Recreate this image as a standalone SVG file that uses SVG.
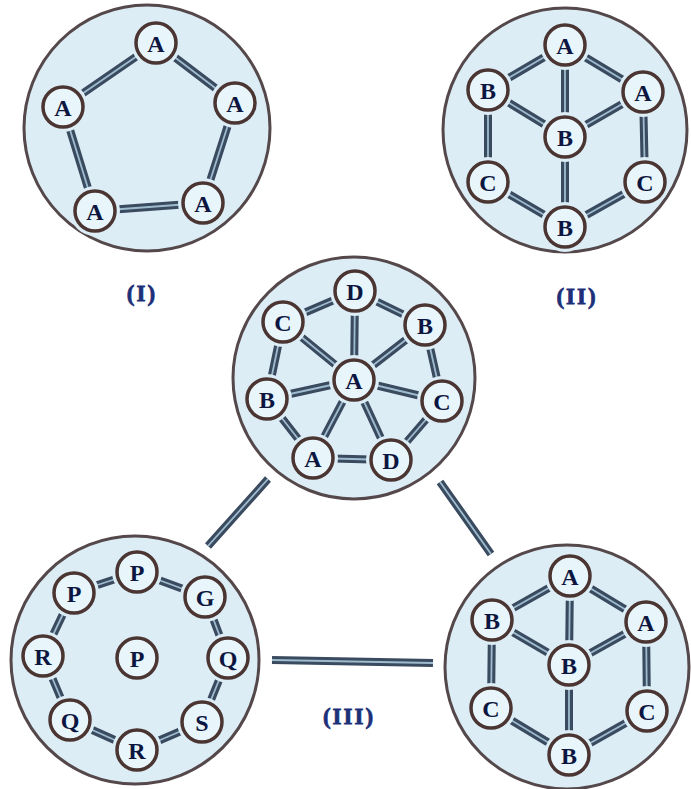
<svg xmlns="http://www.w3.org/2000/svg" width="691" height="789" viewBox="0 0 691 789">
<style>
.big{fill:#dcedf6;stroke:#54484a;stroke-width:3}
.halo{fill:#dcedf6}
.node{fill:#e8f5fb;stroke:#4a3532;stroke-width:3.5}
.lbl{font-family:"Liberation Serif","Times New Roman",serif;font-weight:bold;font-size:24px;fill:#0c1640;text-anchor:middle;dominant-baseline:central}
.ttl{font-family:"Liberation Serif","Times New Roman",serif;font-weight:bold;font-size:23px;fill:#1c2f78;stroke:#1c2f78;stroke-width:0.8;text-anchor:middle;letter-spacing:2px}
.e1{stroke:#3a4b60;stroke-width:8;fill:none}
.e2{stroke:#9fbccf;stroke-width:1.8;fill:none}
</style>
<rect width="691" height="789" fill="#ffffff"/>

<!-- background circles -->
<g id="circle-I"><circle class="big" cx="147" cy="128" r="123"/></g>
<g id="circle-II"><circle class="big" cx="565" cy="130" r="122"/></g>
<g id="circle-III-top"><circle class="big" cx="354" cy="378" r="121"/></g>
<g id="circle-III-left"><circle class="big" cx="135" cy="660" r="124"/></g>
<g id="circle-III-right"><circle class="big" cx="567" cy="667" r="122"/></g>

<!-- connectors -->
<g id="connectors">
  <g class="outer">
    <path class="e1" d="M156,43L63,107M156,43L235,103M63,107L95,211M95,211L203,203M235,103L203,203"/>
    <path class="e1" d="M565,45L488,90M565,45L643,92M565,45L565,137M488,90L565,137M643,92L565,137M488,90L488,182M643,92L645,182M488,182L565,227M645,182L565,227M565,137L565,227"/>
    <path class="e1" d="M355,291L425,325M355,291L283,322M283,322L267,399M267,399L313,458M313,458L391,460M391,460L442,401M442,401L425,325M354,380L355,291M354,380L425,325M354,380L283,322M354,380L267,399M354,380L442,401M354,380L313,458M354,380L391,460"/>
    <path class="e1" d="M137,572L73,593M137,572L205,597M205,597L228,658M228,658L202,722M202,722L137,750M137,750L70,720M70,720L43,656M43,656L73,593"/>
    <path class="e1" d="M570,576L492,620M570,576L646,622M570,576L569,665M492,620L569,665M646,622L569,665M492,620L491,708M646,622L647,711M491,708L569,755M647,711L569,755M569,665L569,755"/>
    <path class="e1" d="M268,479L208,546M440,482L491,554M272,660L433,663"/>
  </g>
  <g class="inner">
    <path class="e2" d="M156,43L63,107M156,43L235,103M63,107L95,211M95,211L203,203M235,103L203,203"/>
    <path class="e2" d="M565,45L488,90M565,45L643,92M565,45L565,137M488,90L565,137M643,92L565,137M488,90L488,182M643,92L645,182M488,182L565,227M645,182L565,227M565,137L565,227"/>
    <path class="e2" d="M355,291L425,325M355,291L283,322M283,322L267,399M267,399L313,458M313,458L391,460M391,460L442,401M442,401L425,325M354,380L355,291M354,380L425,325M354,380L283,322M354,380L267,399M354,380L442,401M354,380L313,458M354,380L391,460"/>
    <path class="e2" d="M137,572L73,593M137,572L205,597M205,597L228,658M228,658L202,722M202,722L137,750M137,750L70,720M70,720L43,656M43,656L73,593"/>
    <path class="e2" d="M570,576L492,620M570,576L646,622M570,576L569,665M492,620L569,665M646,622L569,665M492,620L491,708M646,622L647,711M491,708L569,755M647,711L569,755M569,665L569,755"/>
    <path class="e2" d="M268,479L208,546M440,482L491,554M272,660L433,663"/>
  </g>
</g>

<!-- nodes: diagram I -->
<g id="I-A1"><circle class="halo" cx="156" cy="43" r="25"/><circle class="node" cx="156" cy="43" r="20"/><text class="lbl" x="156" y="44">A</text></g>
<g id="I-A2"><circle class="halo" cx="63" cy="107" r="25"/><circle class="node" cx="63" cy="107" r="20"/><text class="lbl" x="63" y="108">A</text></g>
<g id="I-A3"><circle class="halo" cx="235" cy="103" r="25"/><circle class="node" cx="235" cy="103" r="20"/><text class="lbl" x="235" y="104">A</text></g>
<g id="I-A4"><circle class="halo" cx="95" cy="211" r="25"/><circle class="node" cx="95" cy="211" r="20"/><text class="lbl" x="95" y="212">A</text></g>
<g id="I-A5"><circle class="halo" cx="203" cy="203" r="25"/><circle class="node" cx="203" cy="203" r="20"/><text class="lbl" x="203" y="204">A</text></g>

<!-- nodes: diagram II -->
<g id="II-A1"><circle class="halo" cx="565" cy="45" r="25"/><circle class="node" cx="565" cy="45" r="20"/><text class="lbl" x="565" y="46">A</text></g>
<g id="II-B1"><circle class="halo" cx="488" cy="90" r="25"/><circle class="node" cx="488" cy="90" r="20"/><text class="lbl" x="488" y="91">B</text></g>
<g id="II-A2"><circle class="halo" cx="643" cy="92" r="25"/><circle class="node" cx="643" cy="92" r="20"/><text class="lbl" x="643" y="93">A</text></g>
<g id="II-B2"><circle class="halo" cx="565" cy="137" r="25"/><circle class="node" cx="565" cy="137" r="20"/><text class="lbl" x="565" y="138">B</text></g>
<g id="II-C1"><circle class="halo" cx="488" cy="182" r="25"/><circle class="node" cx="488" cy="182" r="20"/><text class="lbl" x="488" y="183">C</text></g>
<g id="II-C2"><circle class="halo" cx="645" cy="182" r="25"/><circle class="node" cx="645" cy="182" r="20"/><text class="lbl" x="645" y="183">C</text></g>
<g id="II-B3"><circle class="halo" cx="565" cy="227" r="25"/><circle class="node" cx="565" cy="227" r="20"/><text class="lbl" x="565" y="228">B</text></g>

<!-- nodes: diagram III top -->
<g id="III-D1"><circle class="halo" cx="355" cy="291" r="25"/><circle class="node" cx="355" cy="291" r="20"/><text class="lbl" x="355" y="292">D</text></g>
<g id="III-B1"><circle class="halo" cx="425" cy="325" r="25"/><circle class="node" cx="425" cy="325" r="20"/><text class="lbl" x="425" y="326">B</text></g>
<g id="III-C1"><circle class="halo" cx="283" cy="322" r="25"/><circle class="node" cx="283" cy="322" r="20"/><text class="lbl" x="283" y="323">C</text></g>
<g id="III-A1"><circle class="halo" cx="354" cy="380" r="25"/><circle class="node" cx="354" cy="380" r="20"/><text class="lbl" x="354" y="381">A</text></g>
<g id="III-B2"><circle class="halo" cx="267" cy="399" r="25"/><circle class="node" cx="267" cy="399" r="20"/><text class="lbl" x="267" y="400">B</text></g>
<g id="III-C2"><circle class="halo" cx="442" cy="401" r="25"/><circle class="node" cx="442" cy="401" r="20"/><text class="lbl" x="442" y="402">C</text></g>
<g id="III-A2"><circle class="halo" cx="313" cy="458" r="25"/><circle class="node" cx="313" cy="458" r="20"/><text class="lbl" x="313" y="459">A</text></g>
<g id="III-D2"><circle class="halo" cx="391" cy="460" r="25"/><circle class="node" cx="391" cy="460" r="20"/><text class="lbl" x="391" y="461">D</text></g>

<!-- nodes: diagram III left -->
<g id="IIIL-P1"><circle class="halo" cx="137" cy="572" r="25"/><circle class="node" cx="137" cy="572" r="20"/><text class="lbl" x="137" y="573">P</text></g>
<g id="IIIL-P2"><circle class="halo" cx="74" cy="593" r="25"/><circle class="node" cx="74" cy="593" r="20"/><text class="lbl" x="74" y="594">P</text></g>
<g id="IIIL-G"><circle class="halo" cx="205" cy="597" r="25"/><circle class="node" cx="205" cy="597" r="20"/><text class="lbl" x="205" y="598">G</text></g>
<g id="IIIL-R1"><circle class="halo" cx="43" cy="656" r="25"/><circle class="node" cx="43" cy="656" r="20"/><text class="lbl" x="43" y="657">R</text></g>
<g id="IIIL-P3"><circle class="halo" cx="137" cy="658" r="25"/><circle class="node" cx="137" cy="658" r="20"/><text class="lbl" x="137" y="659">P</text></g>
<g id="IIIL-Q1"><circle class="halo" cx="228" cy="658" r="25"/><circle class="node" cx="228" cy="658" r="20"/><text class="lbl" x="228" y="659">Q</text></g>
<g id="IIIL-Q2"><circle class="halo" cx="70" cy="720" r="25"/><circle class="node" cx="70" cy="720" r="20"/><text class="lbl" x="70" y="721">Q</text></g>
<g id="IIIL-S"><circle class="halo" cx="202" cy="722" r="25"/><circle class="node" cx="202" cy="722" r="20"/><text class="lbl" x="202" y="723">S</text></g>
<g id="IIIL-R2"><circle class="halo" cx="137" cy="750" r="25"/><circle class="node" cx="137" cy="750" r="20"/><text class="lbl" x="137" y="751">R</text></g>

<!-- nodes: diagram III right -->
<g id="IIIR-A1"><circle class="halo" cx="570" cy="576" r="25"/><circle class="node" cx="570" cy="576" r="20"/><text class="lbl" x="570" y="577">A</text></g>
<g id="IIIR-B1"><circle class="halo" cx="492" cy="620" r="25"/><circle class="node" cx="492" cy="620" r="20"/><text class="lbl" x="492" y="621">B</text></g>
<g id="IIIR-A2"><circle class="halo" cx="646" cy="622" r="25"/><circle class="node" cx="646" cy="622" r="20"/><text class="lbl" x="646" y="623">A</text></g>
<g id="IIIR-B2"><circle class="halo" cx="569" cy="665" r="25"/><circle class="node" cx="569" cy="665" r="20"/><text class="lbl" x="569" y="666">B</text></g>
<g id="IIIR-C1"><circle class="halo" cx="491" cy="708" r="25"/><circle class="node" cx="491" cy="708" r="20"/><text class="lbl" x="491" y="709">C</text></g>
<g id="IIIR-C2"><circle class="halo" cx="647" cy="711" r="25"/><circle class="node" cx="647" cy="711" r="20"/><text class="lbl" x="647" y="712">C</text></g>
<g id="IIIR-B3"><circle class="halo" cx="569" cy="755" r="25"/><circle class="node" cx="569" cy="755" r="20"/><text class="lbl" x="569" y="756">B</text></g>

<!-- captions -->
<g id="captions">
  <text class="ttl" x="142" y="301">(I)</text>
  <text class="ttl" x="577" y="304">(II)</text>
  <text class="ttl" x="349" y="724">(III)</text>
</g>
</svg>
